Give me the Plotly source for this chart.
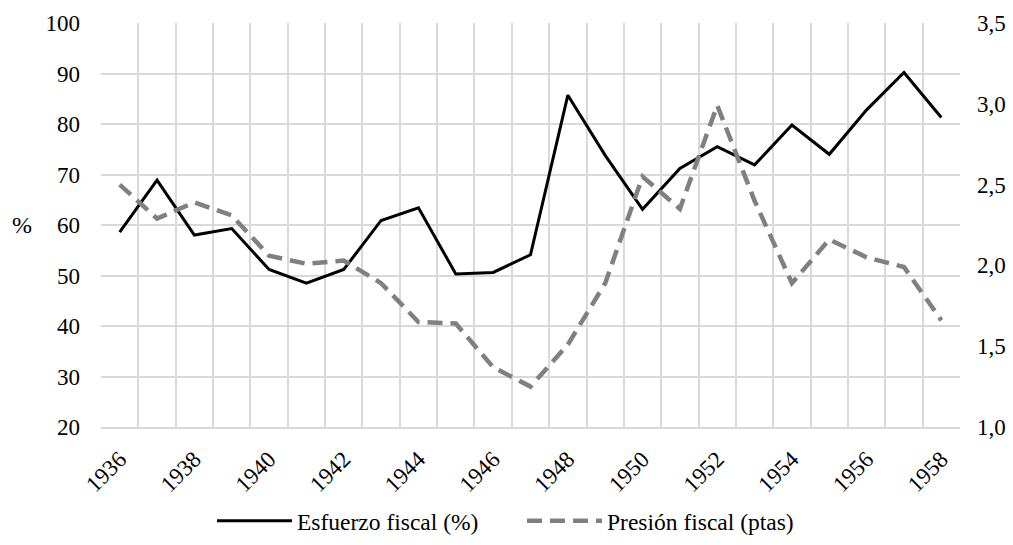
import plotly.graph_objects as go

years = list(range(1936, 1959))
esfuerzo = [58.6, 68.9, 58.0, 59.3, 51.2, 48.5, 51.2, 60.9, 63.4, 50.3, 50.6, 54.1,
            85.7, 73.8, 63.1, 71.2, 75.5, 71.9, 79.8, 74.0, 82.8, 90.2, 81.3]
presion = [2.50, 2.29, 2.39, 2.31, 2.06, 2.01, 2.03, 1.89, 1.65, 1.64, 1.37, 1.25,
           1.51, 1.89, 2.55, 2.35, 2.99, 2.40, 1.89, 2.16, 2.05, 1.99, 1.66]
year_ticks = list(range(1936, 1959, 2))
left_ticks = list(range(20, 101, 10))
right_ticks = [1.0, 1.5, 2.0, 2.5, 3.0, 3.5]

FONT = "Liberation Serif, Times New Roman, serif"
GRID = "#d9d9d9"
FS = 23

fig = go.Figure()
fig.add_trace(go.Scatter(x=years, y=esfuerzo, mode="lines", name="Esfuerzo fiscal (%)",
                         line=dict(color="black", width=3), yaxis="y"))
fig.add_trace(go.Scatter(x=years, y=presion, mode="lines", name="Presión fiscal (ptas)",
                         line=dict(color="#808080", width=4.5, dash="15px,8px"), yaxis="y2"))

fig.update_layout(
    width=1013, height=545,
    margin=dict(l=101, r=53, t=23, b=118, autoexpand=False),
    paper_bgcolor="white", plot_bgcolor="white",
    font=dict(family=FONT, size=FS, color="black"),
    separators=", ",
    showlegend=True,
    legend=dict(orientation="h", xref="container", x=212 / 1013, xanchor="left",
                yref="container", y=1 - 521 / 545, yanchor="middle",
                font=dict(size=23.5), itemwidth=75, entrywidth=220),
    xaxis=dict(range=[1935.5, 1958.5], tickvals=year_ticks, ticktext=[str(y) for y in year_ticks],
               tickangle=-45, showgrid=False, zeroline=False, showline=True, linecolor=GRID,
               linewidth=1.5, ticks="", automargin=False, ticklabelstandoff=8,
               minor=dict(tick0=1935.5, dtick=1, showgrid=True, gridcolor=GRID, gridwidth=1.5)),
    yaxis=dict(range=[20, 100], tickvals=left_ticks, showgrid=True, gridcolor=GRID, gridwidth=1.5,
               zeroline=False, showline=False, ticks="", automargin=False, ticklabelstandoff=20),
    yaxis2=dict(range=[1.0, 3.5], tickvals=right_ticks, tickformat=".1f", overlaying="y",
                side="right", showgrid=False, zeroline=False, showline=False, ticks="",
                automargin=False, ticklabelstandoff=16),
    annotations=[dict(text="%", xref="paper", yref="paper", x=-0.092, y=0.5,
                      xanchor="center", yanchor="middle", showarrow=False,
                      font=dict(size=24))],
)
fig.write_html("out.html", config={"displayModeBar": False},
               post_script="document.body.style.margin='0';")
